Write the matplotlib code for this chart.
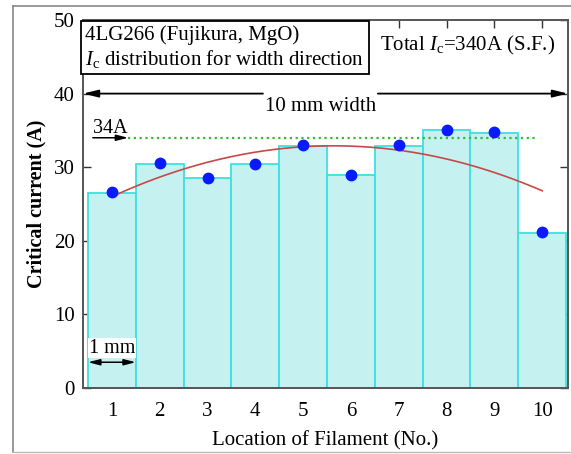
import numpy as np
import matplotlib
matplotlib.use("Agg")
import matplotlib.pyplot as plt
from matplotlib.lines import Line2D

# ---- data ----
filaments = [1, 2, 3, 4, 5, 6, 7, 8, 9, 10]
ic_bars = [26.5, 30.5, 28.5, 30.4, 32.9, 29.0, 32.9, 35.0, 34.7, 21.1]
ic_points = [26.6, 30.6, 28.6, 30.5, 33.0, 29.0, 33.0, 35.1, 34.8, 21.2]
target_ic = 34.0
fit_x = [1, 5.5, 10]
fit_y = [26.0, 32.9, 26.8]
yticks = [0, 10, 20, 30, 40, 50]

plt.rcParams['font.family'] = ['Liberation Serif', 'DejaVu Serif']
plt.rcParams['mathtext.fontset'] = 'custom'
plt.rcParams['mathtext.rm'] = 'Liberation Serif'
plt.rcParams['mathtext.it'] = 'Liberation Serif:italic'

FS = 15

fig = plt.figure(figsize=(5.71, 4.54), dpi=100)
ax = fig.add_axes([83/571, 1-388/454, 485/571, 368/454])

ax.bar(filaments, ic_bars, width=1.0, color='#c6f1f1', edgecolor='#3fe0e0',
       linewidth=1.3, zorder=1)

# fitted quadratic through read points
coef = np.polyfit(fit_x, fit_y, 2)
xx = np.linspace(filaments[0], filaments[-1], 200)
ax.plot(xx, np.polyval(coef, xx), color='#c84848', lw=1.2, zorder=3)

ax.plot(filaments, ic_points, 'o', color='#0a1aff', markersize=7.5, zorder=4)

ax.plot([1.34, 9.91], [target_ic, target_ic], color='#33bb33', lw=1.6,
        linestyle=(0, (1, 1.6)), zorder=2)

ax.set_xlim(0.395, 10.54)
ax.set_ylim(0, 50)
ax.set_xticks(filaments)
ax.set_yticks(yticks)
ax.set_axisbelow(True)
ax.tick_params(direction='in', length=6, width=1, top=True, right=True,
               labelsize=FS, colors='#333333', labelcolor='black', pad=6)
ax.tick_params(axis='x', pad=10)
for s in ax.spines.values():
    s.set_color('#555555')
    s.set_linewidth(1.4)

ax.set_xlabel('Location of Filament (No.)', fontsize=FS, labelpad=7)
ax.set_ylabel('Critical current (A)', fontsize=14.5, fontweight='bold', labelpad=5)

# 10 mm width arrow
tr = ax.get_yaxis_transform()
ax.annotate('', xy=(0.0, 40), xycoords=('axes fraction', 'data'),
            xytext=(0.371, 40), textcoords=('axes fraction', 'data'),
            arrowprops=dict(arrowstyle='-|>,head_length=0.9,head_width=0.22',
                            color='black', lw=1.3, shrinkA=0, shrinkB=0))
ax.annotate('', xy=(1.0, 40), xycoords=('axes fraction', 'data'),
            xytext=(0.608, 40), textcoords=('axes fraction', 'data'),
            arrowprops=dict(arrowstyle='-|>,head_length=0.9,head_width=0.22',
                            color='black', lw=1.3, shrinkA=0, shrinkB=0))
ax.text(0.49, 38.3, '10 mm width', transform=tr, ha='center', va='center',
        fontsize=FS)

# 34A arrow
ax.annotate('', xy=(1.34, target_ic), xytext=(0.6, target_ic),
            arrowprops=dict(arrowstyle='-|>,head_length=0.7,head_width=0.18',
                            color='black', lw=1.1, shrinkA=0, shrinkB=0))
ax.text(0.6, 35.3, '34A', ha='left', va='center', fontsize=14.5)

# 1 mm arrow
ax.annotate('', xy=(0.5, 3.5), xytext=(1.5, 3.5),
            arrowprops=dict(arrowstyle='<|-|>,head_length=0.7,head_width=0.18',
                            color='black', lw=1.1, shrinkA=0, shrinkB=0))
ax.text(1.0, 5.4, '1 mm', ha='center', va='center', fontsize=14.5,
        bbox=dict(boxstyle='square,pad=0.03', fc='white', ec='none'))

# info boxes
ax.text(0.005, 0.985, '4LG266 (Fujikura, MgO)\n$I_{\\rm c}$ distribution for width direction',
        transform=ax.transAxes, ha='left', va='top', fontsize=FS,
        linespacing=1.15,
        bbox=dict(boxstyle='square,pad=0.2', fc='white', ec='black', lw=1.3),
        zorder=5)
ax.text(0.612, 0.932, 'Total $I_{\\rm c}$=340A (S.F.)', transform=ax.transAxes,
        ha='left', va='center', fontsize=FS, zorder=5)

# outer frame
fig.add_artist(Line2D([13/571, 13/571], [1-452/454, 1-6/454], color='#888888', lw=1.2))
fig.add_artist(Line2D([13/571, 1], [1-6/454, 1-6/454], color='#888888', lw=1.2))
fig.add_artist(Line2D([13/571, 1], [1-452/454, 1-452/454], color='#bbbbbb', lw=1.0))

fig.savefig('out.png', dpi=100)
